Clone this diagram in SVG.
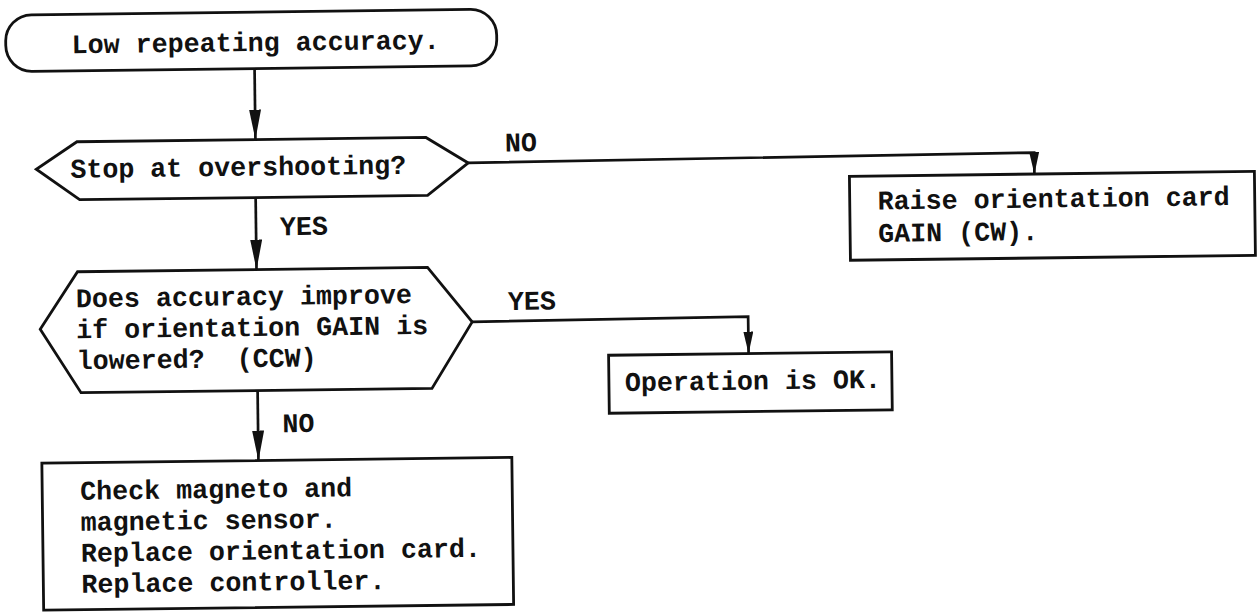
<svg xmlns="http://www.w3.org/2000/svg" width="1258" height="614" viewBox="0 0 1258 614">
  <style>
    .shape { fill: #ffffff; stroke: #111111; stroke-width: 2.8; stroke-linejoin: miter; }
    .wire { fill: none; stroke: #111111; stroke-width: 2.7; }
    .txt { font-family: "Liberation Mono", "DejaVu Sans Mono", monospace; font-size: 27px; font-weight: bold; fill: #111111; }
  </style>
  <defs>
    <marker id="arrowL" markerUnits="userSpaceOnUse" markerWidth="32" markerHeight="14" refX="30" refY="6" orient="auto">
      <path d="M0,0 L30,6 L0,12 Z" fill="#111111"/>
    </marker>
    <marker id="arrowS" markerUnits="userSpaceOnUse" markerWidth="24" markerHeight="11" refX="22" refY="5" orient="auto">
      <path d="M0,0 L22,5 L0,10 Z" fill="#111111"/>
    </marker>
  </defs>

  <!-- the whole chart sits slightly tilted on the page -->
  <g transform="rotate(-0.7 629 307)">

    <g id="connectors">
      <path class="wire" d="M257.5,64 L257.5,135" marker-end="url(#arrowL)"/>
      <path class="wire" d="M470,161 L1036,157.5 L1036,179" marker-end="url(#arrowS)"/>
      <path class="wire" d="M257,193 L257,265" marker-end="url(#arrowL)"/>
      <path class="wire" d="M472,320 L748,318 L748,355" marker-end="url(#arrowS)"/>
      <path class="wire" d="M256.6,386 L256.6,456" marker-end="url(#arrowL)"/>
      <text class="txt" x="507" y="150" textLength="32" lengthAdjust="spacingAndGlyphs">NO</text>
      <text class="txt" x="281" y="231" textLength="48" lengthAdjust="spacingAndGlyphs">YES</text>
      <text class="txt" x="508" y="308.5" textLength="48" lengthAdjust="spacingAndGlyphs">YES</text>
      <text class="txt" x="281" y="428" textLength="32" lengthAdjust="spacingAndGlyphs">NO</text>
    </g>

    <g id="start">
      <rect class="shape" x="9" y="7.5" width="491" height="56.5" rx="26" ry="26"/>
      <text class="txt" x="75" y="46.5" textLength="368" lengthAdjust="spacingAndGlyphs">Low repeating accuracy.</text>
    </g>

    <g id="overshoot">
      <polygon class="shape" points="79,135 428,135 470,161 429,193 81,193 38,162"/>
      <text class="txt" x="72" y="171" textLength="336" lengthAdjust="spacingAndGlyphs">Stop at overshooting?</text>
    </g>

    <g id="raise-gain">
      <rect class="shape" x="851" y="179" width="405" height="84"/>
      <text class="txt" x="879" y="212.5" textLength="352" lengthAdjust="spacingAndGlyphs">Raise orientation card</text>
      <text class="txt" x="879" y="245" textLength="160" lengthAdjust="spacingAndGlyphs">GAIN (CW).</text>
    </g>

    <g id="lower-gain">
      <polygon class="shape" points="78,265 428,265 472,320 431,386 80,386 40,322"/>
      <text class="txt" x="76" y="300.5" textLength="336" lengthAdjust="spacingAndGlyphs">Does accuracy improve</text>
      <text class="txt" x="76" y="331.5" textLength="352" lengthAdjust="spacingAndGlyphs">if orientation GAIN is</text>
      <text class="txt" x="76" y="362.5" textLength="240" lengthAdjust="spacingAndGlyphs" xml:space="preserve">lowered?  (CCW)</text>
    </g>

    <g id="ok">
      <rect class="shape" x="608" y="355" width="283" height="58"/>
      <text class="txt" x="624" y="391" textLength="256" lengthAdjust="spacingAndGlyphs">Operation is OK.</text>
    </g>

    <g id="replace">
      <rect class="shape" x="40" y="456" width="470" height="147"/>
      <text class="txt" x="78" y="493" textLength="272" lengthAdjust="spacingAndGlyphs">Check magneto and</text>
      <text class="txt" x="78" y="524" textLength="256" lengthAdjust="spacingAndGlyphs">magnetic sensor.</text>
      <text class="txt" x="78" y="555" textLength="400" lengthAdjust="spacingAndGlyphs">Replace orientation card.</text>
      <text class="txt" x="78" y="586" textLength="304" lengthAdjust="spacingAndGlyphs">Replace controller.</text>
    </g>
  </g>
</svg>
